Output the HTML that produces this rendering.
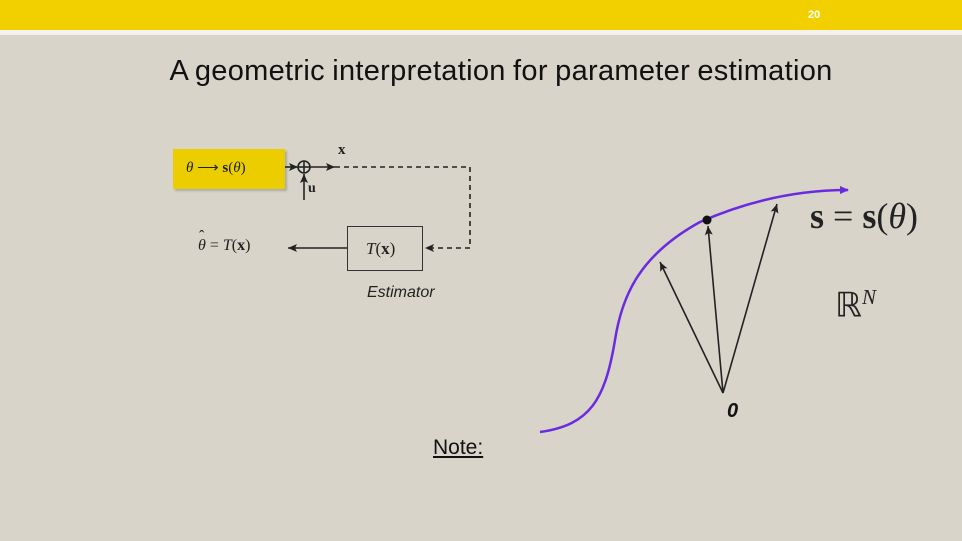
<!DOCTYPE html>
<html><head><style>
body{margin:0;width:962px;height:541px;background:#d8d4c9;position:relative;overflow:hidden;font-family:"Liberation Sans",sans-serif}
.top{position:absolute;left:0;top:0;width:962px;height:30px;background:#f2d000}
.wl{position:absolute;left:0;top:30px;width:962px;height:5px;background:#f4f2ea}
.num{position:absolute;left:808px;top:9px;font-size:11px;color:#fff;font-weight:bold}
.title{position:absolute;left:44px;width:914px;top:55px;text-align:center;font-size:29px;color:#111;letter-spacing:0.3px;word-spacing:-1px}
.m{font-family:"Liberation Serif",serif;position:absolute;color:#222;white-space:nowrap}
</style></head><body>
<div class="top"></div><div class="wl"></div><div class="num">20</div>
<div class="title">A geometric interpretation for parameter estimation</div>
<div style="position:absolute;left:173px;top:149px;width:112px;height:40px;background:#ecce00;box-shadow:2px 2px 2px #aaa"></div>
<div class="m" style="left:186px;top:158px;font-size:15px"><i>θ</i> ⟶ <b>s</b>(<i>θ</i>)</div>
<div class="m" style="left:338px;top:142px;font-size:15px;font-weight:bold">x</div>
<div class="m" style="left:308px;top:181px;font-size:14px;font-weight:bold">u</div>
<div class="m" style="left:198px;top:237px;font-size:16px"><i style="position:relative">θ<span style="position:absolute;left:1px;top:-9px;font-style:normal">ˆ</span></i> = <i>T</i>(<b>x</b>)</div>
<div style="position:absolute;left:347px;top:226px;width:76px;height:45px;border:1.5px solid #333;box-sizing:border-box"></div>
<div class="m" style="left:366px;top:239px;font-size:17px"><i>T</i>(<b>x</b>)</div>
<div style="position:absolute;left:367px;top:284px;font-size:16px;font-style:italic;color:#222">Estimator</div>
<div style="position:absolute;left:433px;top:436px;font-size:21px;text-decoration:underline;color:#111">Note:</div>
<div class="m" style="left:810px;top:195px;font-size:36px"><b>s</b> = <b>s</b>(<i>θ</i>)</div>
<div class="m" style="left:835px;top:285px;font-size:34px">ℝ<sup style="font-size:21px;font-style:italic">N</sup></div>
<div style="position:absolute;left:727px;top:400px;font-size:20px;font-weight:bold;font-style:italic;color:#111">0</div>
<svg width="962" height="541" style="position:absolute;left:0;top:0">
<defs><marker id="a" markerWidth="10" markerHeight="10" refX="9" refY="5" orient="auto" markerUnits="userSpaceOnUse"><path d="M0,1 L9,5 L0,9 L2,5 Z" fill="#222"/></marker>
<marker id="b" markerWidth="10" markerHeight="10" refX="8" refY="5" orient="auto" markerUnits="userSpaceOnUse"><path d="M0,1 L9,5 L0,9 Z" fill="#6a2be0"/></marker></defs>
<g stroke="#222" stroke-width="1.6" fill="none">
<line x1="285" y1="167" x2="298" y2="167" marker-end="url(#a)"/>
<circle cx="304" cy="167" r="6"/><line x1="298" y1="167" x2="310" y2="167"/><line x1="304" y1="161" x2="304" y2="173"/>
<line x1="310" y1="167" x2="335" y2="167" marker-end="url(#a)"/>
<line x1="304" y1="200" x2="304" y2="174" marker-end="url(#a)"/>
<path d="M335,167 H470 V248 H425" stroke-dasharray="5,4" marker-end="url(#a)"/>
<line x1="347" y1="248" x2="288" y2="248" marker-end="url(#a)"/>
<line x1="723" y1="393" x2="660" y2="262" marker-end="url(#a)"/>
<line x1="723" y1="393" x2="708" y2="226" marker-end="url(#a)"/>
<line x1="723" y1="393" x2="777" y2="204" marker-end="url(#a)"/>
</g>
<path d="M540,432 C590,425 605,400 615,340 C622,295 640,255 700,222 C750,200 800,190 848,190" stroke="#6a2be0" stroke-width="2.5" fill="none" marker-end="url(#b)"/>
<circle cx="707" cy="220" r="4.5" fill="#111"/>
</svg>
</body></html>
